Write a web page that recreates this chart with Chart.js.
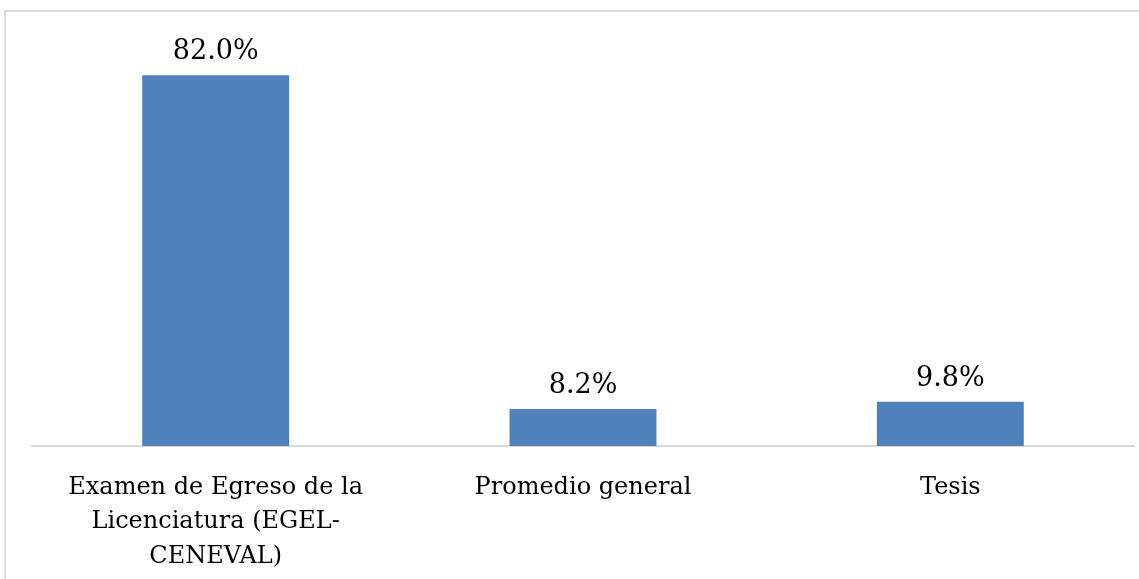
<!DOCTYPE html>
<html>
<head>
<meta charset="utf-8">
<script src="https://cdn.jsdelivr.net/npm/chart.js@4/dist/chart.umd.min.js"></script>
<style>
  html, body { margin: 0; padding: 0; background: #fff; overflow: hidden; }
  #frame { position: absolute; left: 4px; top: 10px; width: 1300px; height: 700px; border: 2px solid #dcdcdc; box-sizing: border-box; }
  #chart { position: absolute; left: 0; top: 0; }
</style>
</head>
<body>
<div id="frame"></div>
<canvas id="chart" width="1139" height="579"></canvas>
<script>
// Categories (each entry is the wrapped label lines)
const categories = [
    ['Examen de Egreso de la', 'Licenciatura (EGEL-', 'CENEVAL)'],
    ['Promedio general'],
    ['Tesis']
];

// Percentages
const values = [82.0, 8.2, 9.8];

const barColor = '#4f81bd';

// Draw the percentage above each bar
const valueLabels = {
    id: 'valueLabels',
    afterDatasetsDraw(chart) {
        const ctx = chart.ctx;
        const meta = chart.getDatasetMeta(0);
        ctx.save();
        ctx.font = '27px "DejaVu Serif"';
        ctx.fillStyle = '#000';
        ctx.textAlign = 'center';
        ctx.textBaseline = 'alphabetic';
        meta.data.forEach((bar, i) => {
            ctx.fillText(values[i].toFixed(1) + '%', bar.x, bar.y - 16);
        });
        ctx.restore();
    }
};

const ctx = document.getElementById('chart').getContext('2d');

new Chart(ctx, {
    type: 'bar',
    data: {
        labels: categories,
        datasets: [{
            data: values,
            backgroundColor: barColor,
            borderWidth: 0,
            barPercentage: 0.4,
            categoryPercentage: 1.0
        }]
    },
    options: {
        responsive: false,
        animation: false,
        devicePixelRatio: 1,
        layout: { padding: { left: 32, right: 5, top: 39, bottom: 0 } },
        plugins: {
            legend: { display: false },
            tooltip: { enabled: false }
        },
        scales: {
            y: {
                display: false,
                min: 0,
                max: 90
            },
            x: {
                grid: { display: false, drawTicks: false },
                border: { display: true, color: '#d9d9d9', width: 2 },
                ticks: {
                    color: '#000',
                    font: { family: '"DejaVu Serif"', size: 24, lineHeight: 1.44 },
                    padding: 24,
                    maxRotation: 0,
                    autoSkip: false
                },
                afterFit(scale) {
                    scale.height = 133;
                }
            }
        }
    },
    plugins: [valueLabels]
});
</script>
</body>
</html>
